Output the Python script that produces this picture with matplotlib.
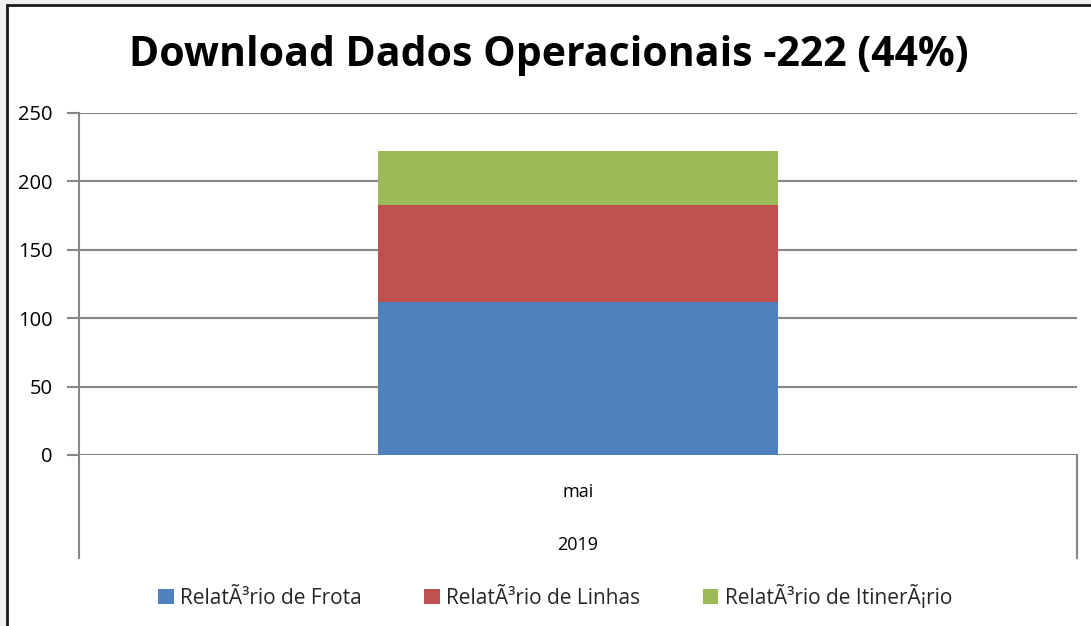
import matplotlib.pyplot as plt
from matplotlib.patches import Rectangle, Patch

# data
categories = ['mai']
year = '2019'
series_names = ['RelatÃ³rio de Frota', 'RelatÃ³rio de Linhas', 'RelatÃ³rio de ItinerÃ¡rio']
frota = [112]
linhas = [71]
itinerario = [39]
colors = ['#4f81bd', '#c0504d', '#9bbb59']
yticks = [0, 50, 100, 150, 200, 250]

plt.rcParams['font.family'] = ['Open Sans', 'DejaVu Sans']

W, H = 1091, 626
fig = plt.figure(figsize=(W / 100, H / 100), dpi=100)
fig.patch.set_facecolor('#f0f0f0')

# white chart frame with dark border (top/left visible)
fig.patches.append(Rectangle((7 / W, -0.05), 1.1, 1 - 5 / H + 0.05, transform=fig.transFigure,
                             facecolor='white', edgecolor='#1a1a1a', linewidth=2, zorder=-10))

ax = fig.add_axes([79 / W, 1 - 455 / H, (1077 - 79) / W, (455 - 113) / H])
ax.set_facecolor('none')

x = range(len(categories))
values = [frota, linhas, itinerario]
bottom = [0] * len(categories)
for vals, c, name in zip(values, colors, series_names):
    ax.bar(x, vals, width=0.4, bottom=bottom, color=c, label=name, zorder=3)
    bottom = [b + v for b, v in zip(bottom, vals)]

ax.set_xlim(-0.5, 0.5)
ax.set_ylim(0, 250)
ax.set_yticks(yticks)
ax.yaxis.grid(True, color='#868686', linewidth=1.5, zorder=0)
ax.tick_params(axis='y', length=9, width=1.5, color='#868686', labelsize=14.5, pad=10, labelcolor='black')
ax.set_xticks([])
for s in ['top', 'right', 'bottom']:
    ax.spines[s].set_visible(False)
ax.spines['left'].set_color('#868686')
ax.spines['left'].set_linewidth(1.5)

# multilevel category axis below the plot
ext = -(558 - 455) / (455 - 113)
for xa in [0, 1]:
    ax.plot([xa, xa], [0, ext], transform=ax.transAxes, color='#868686', linewidth=1.5, clip_on=False)
ax.text(0.5, -(492 - 455) / (455 - 113), categories[0], transform=ax.transAxes,
        ha='center', va='center', fontsize=13, color='black')
ax.text(0.5, -(545 - 455) / (455 - 113), year, transform=ax.transAxes,
        ha='center', va='center', fontsize=13, color='black')

fig.text(549 / W, 1 - 56 / H, 'Download Dados Operacionais -222 (44%)', ha='center', va='center',
         fontsize=29.5, fontweight='bold', color='black')

handles = [Patch(facecolor=c) for c in colors]
fig.legend(handles, series_names, loc='center', bbox_to_anchor=(555 / W, 1 - 597 / H), ncol=3,
           frameon=False, fontsize=15, handlelength=0.75, handleheight=0.75, handletextpad=0.3,
           columnspacing=3.0, labelcolor='#262626')

fig.savefig('out.png', dpi=100, facecolor=fig.get_facecolor())
